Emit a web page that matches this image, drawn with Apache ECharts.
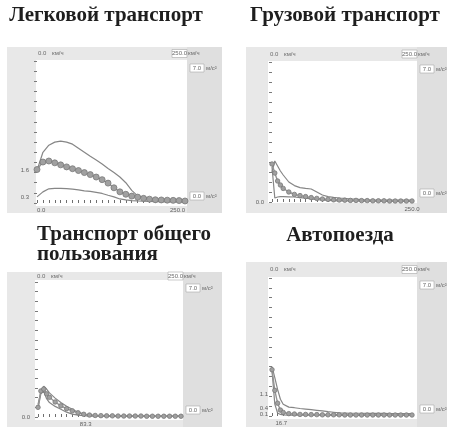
<!DOCTYPE html>
<html><head><meta charset="utf-8">
<script src="https://cdn.jsdelivr.net/npm/echarts@6/dist/echarts.min.js"></script>
<style>html,body{margin:0;padding:0;background:#fff}#c{width:451px;height:427px}</style>
</head><body><div id="c"></div>
<script>
// ---------- data ----------
const titles = ['Легковой транспорт', 'Грузовой транспорт', 'Транспорт общего\nпользования', 'Автопоезда'];
const speedsCoarse = [0,10,20,30,40,50,60,70,80,90,100,110,120,130,140,150,160,170,180,190,200,210,220,230,240,250];
const speedsFine = [0,5,10,15,20,30,40,50,60,70,80,90,100,110,120,130,140,150,160,170,180,190,200,210,220,230,240,250];

// Легковой транспорт
const carUpper = [1.6,2.5,2.85,3.0,3.05,3.0,2.9,2.7,2.5,2.3,2.12,1.92,1.7,1.5,1.28,1.0,0.62,0.35,0.27,0.23,0.21,0.2,0.18,0.17,0.16,0.15];
const carMean  = [1.65,2.02,2.07,1.98,1.88,1.78,1.69,1.6,1.5,1.4,1.28,1.15,0.98,0.75,0.55,0.43,0.34,0.29,0.23,0.19,0.16,0.15,0.14,0.13,0.12,0.1];
const carLower = [0.3,0.55,0.7,0.72,0.72,0.71,0.68,0.65,0.6,0.57,0.52,0.47,0.38,0.3,0.2,0.15,0.12,0.1,0.09,0.08,0.07,0.07,0.06,0.06,0.06,0.06];

// Грузовой транспорт
const truckUpper = [1.5,2.05,1.8,1.55,1.35,1.0,0.82,0.72,0.68,0.65,0.5,0.35,0.27,0.23,0.2,0.18,0.15,0.14,0.12,0.11,0.1,0.1,0.1,0.1,0.1,0.1,0.1,0.1];
const truckMean  = [1.9,1.45,1.05,0.85,0.68,0.5,0.38,0.32,0.27,0.22,0.18,0.15,0.13,0.11,0.1,0.09,0.08,0.08,0.07,0.07,0.06,0.06,0.06,0.05,0.05,0.05,0.05,0.05];
const truckLower = [1.75,0.2,0.25,0.27,0.27,0.26,0.25,0.22,0.19,0.15,0.12,0.1,0.08,0.07,0.06,0.05,0.05,0.05,0.04,0.04,0.04,0.04,0.03,0.03,0.03,0.03,0.03,0.03];

// Транспорт общего пользования
const busUpper = [0.65,1.3,1.6,1.45,1.25,0.98,0.75,0.56,0.4,0.25,0.15,0.1,0.08,0.07,0.07,0.06,0.06,0.06,0.05,0.05,0.05,0.05,0.05,0.05,0.05,0.05,0.05,0.05];
const busMean  = [0.5,1.35,1.45,1.2,1.02,0.78,0.58,0.43,0.32,0.22,0.14,0.1,0.08,0.07,0.06,0.06,0.05,0.05,0.05,0.05,0.05,0.04,0.04,0.04,0.04,0.04,0.04,0.04];
const busLower = [0.45,1.2,1.35,0.95,0.75,0.55,0.4,0.25,0.15,0.1,0.07,0.05,0.05,0.04,0.04,0.04,0.03,0.03,0.03,0.03,0.03,0.03,0.03,0.03,0.03,0.03,0.03,0.03];

// Автопоезда
const roadTrainUpper = [2.5,1.95,1.35,0.85,0.6,0.45,0.42,0.38,0.35,0.32,0.29,0.26,0.22,0.19,0.16,0.15,0.14,0.14,0.14,0.13,0.13,0.13,0.13,0.12,0.12,0.12,0.12,0.12];
const roadTrainMean  = [2.35,1.3,0.65,0.3,0.18,0.12,0.1,0.08,0.08,0.07,0.07,0.06,0.06,0.06,0.06,0.05,0.05,0.05,0.05,0.05,0.05,0.05,0.05,0.05,0.05,0.05,0.05,0.05];
const roadTrainLower = [2.3,0.6,0.15,0.08,0.05,0.04,0.04,0.04,0.04,0.04,0.04,0.04,0.04,0.04,0.03,0.03,0.03,0.03,0.03,0.03,0.03,0.03,0.03,0.03,0.03,0.03,0.03,0.03];

const yLabelValues = [[0.3,1.6],[0],[0],[0.1,0.4,1.1]];
const xLabelValues = [[0,250],[250],[83.3],[16.7]];
const speedUnit = 'км/ч';
const accelUnit = 'м/с²';
const speedMin = '0.0', speedMax = '250.0', accelMax = '7.0', accelMin = '0.0';

// ---------- layout ----------
const panels = [
  {frame:[7,47,215,166],  white:[36,60,151,146],  grid:[37,61,148,142], ylm:8, xs:speedsCoarse, series:[carUpper,carMean,carLower], msize:6},
  {frame:[246,47,201,166],white:[268,61,149,142], grid:[272,62,140,140], ylm:8, xs:speedsFine, series:[truckUpper,truckMean,truckLower], msize:4.5},
  {frame:[7,272,215,155], white:[35,280,148,140], grid:[38,282,143,135], ylm:8, xs:speedsFine, series:[busUpper,busMean,busLower], msize:4.5},
  {frame:[246,262,201,165],white:[268,277,149,142],grid:[272,278,140,138], ylm:4, xs:speedsFine, series:[roadTrainUpper,roadTrainMean,roadTrainLower], msize:4.5}
];
const titleLayout = [
  {left:106, top:6, textAlign:'center'},
  {left:345, top:6, textAlign:'center'},
  {left:37, top:225, textAlign:'left'},
  {left:340, top:226, textAlign:'center'}
];

const txtStyle = {fontSize:6, fill:'#6a6a6a', fontFamily:'Liberation Sans'};
const graphic = [];
panels.forEach((p) => {
  const [fx,fy,fw,fh] = p.frame, [wx,wy,ww,wh] = p.white;
  graphic.push({type:'rect', z:-100, shape:{x:fx,y:fy,width:fw,height:fh}, style:{fill:'#e8e8e8'}});
  graphic.push({type:'rect', z:-99, shape:{x:wx+ww,y:fy,width:fx+fw-wx-ww,height:fh}, style:{fill:'#dfdfdf'}});
  graphic.push({type:'rect', z:-98, shape:{x:wx,y:wy,width:ww,height:wh}, style:{fill:'#ffffff'}});
  const ty = fy + (wy - fy) / 2;
  graphic.push({type:'text', z:100, x:wx+2, y:ty, style:Object.assign({text:speedMin, verticalAlign:'middle'}, txtStyle)});
  graphic.push({type:'text', z:100, x:wx+16, y:ty, style:Object.assign({text:speedUnit, verticalAlign:'middle'}, txtStyle)});
  graphic.push({type:'rect', z:99, shape:{x:wx+ww-15,y:ty-4,width:15,height:8}, style:{fill:'#fff', stroke:'#a8a8a8', lineWidth:0.6}});
  graphic.push({type:'text', z:100, x:wx+ww-7.5, y:ty, style:Object.assign({text:speedMax, align:'center', verticalAlign:'middle'}, txtStyle)});
  graphic.push({type:'text', z:100, x:wx+ww+1, y:ty, style:Object.assign({text:speedUnit, verticalAlign:'middle'}, txtStyle)});
  const rx = wx + ww + 3;
  [[wy+8, accelMax],[wy+wh-10, accelMin]].forEach(([yy, t]) => {
    graphic.push({type:'rect', z:99, shape:{x:rx,y:yy-4,width:14,height:8}, style:{fill:'#fff', stroke:'#a8a8a8', lineWidth:0.6}});
    graphic.push({type:'text', z:100, x:rx+7, y:yy, style:Object.assign({text:t, align:'center', verticalAlign:'middle'}, txtStyle)});
    graphic.push({type:'text', z:100, x:rx+16, y:yy, style:Object.assign({text:accelUnit, verticalAlign:'middle'}, txtStyle)});
  });
});

const grids = [], xAxes = [], yAxes = [], series = [];
const labelStyle = {fontSize:6, color:'#5e5e5e', fontFamily:'Liberation Sans', formatter:(v)=>Number(v).toFixed(1)};
panels.forEach((p, i) => {
  const [gl,gt,gw,gh] = p.grid;
  grids.push({left:gl, top:gt, width:gw, height:gh, show:false, containLabel:false});
  xAxes.push({type:'value', gridIndex:i, min:0, max:250, interval:10,
    axisLine:{show:false}, splitLine:{show:false},
    axisTick:{show:true, inside:true, length:3, lineStyle:{color:'#6e6e6e', width:1}},
    axisLabel:Object.assign({customValues:xLabelValues[i], margin:4, alignMinLabel: i===0?'left':'center', alignMaxLabel: i===0?'right':'center'}, labelStyle)});
  yAxes.push({type:'value', gridIndex:i, min:0, max:7, interval:0.5,
    axisLine:{show:false}, splitLine:{show:false},
    axisTick:{show:true, inside:false, length:3, lineStyle:{color:'#7a7a7a', width:1}},
    axisLabel:Object.assign({customValues:yLabelValues[i], margin:p.ylm}, labelStyle)});
  const pair = (arr) => arr.map((v, k) => [p.xs[k], v]);
  const [up, mean, low] = p.series;
  series.push({type:'line', xAxisIndex:i, yAxisIndex:i, data:pair(up), showSymbol:false, symbol:'none',
    lineStyle:{color:'#868686', width:1.2}, z:3, animation:false});
  series.push({type:'line', xAxisIndex:i, yAxisIndex:i, data:pair(low), showSymbol:false, symbol:'none',
    lineStyle:{color:'#868686', width:1.2}, z:3, animation:false});
  series.push({type:'line', xAxisIndex:i, yAxisIndex:i, data:pair(mean), symbol:'circle', symbolSize:p.msize, showSymbol:true,
    lineStyle:{color:'#949494', width:1.4}, itemStyle:{color:'#a0a0a0', borderColor:'#787878', borderWidth:0.8}, z:4, animation:false});
});

const titleOpts = titles.map((t, i) => Object.assign({
  text:t, padding:0,
  textStyle:{fontFamily:'Liberation Serif', fontWeight:'bold', fontSize:21, color:'#1e1e1e', lineHeight:20}
}, titleLayout[i]));

const chart = echarts.init(document.getElementById('c'), null, {renderer:'canvas'});
chart.setOption({
  animation:false,
  backgroundColor:'#ffffff',
  title:titleOpts,
  graphic:graphic,
  grid:grids, xAxis:xAxes, yAxis:yAxes, series:series
});
</script></body></html>
